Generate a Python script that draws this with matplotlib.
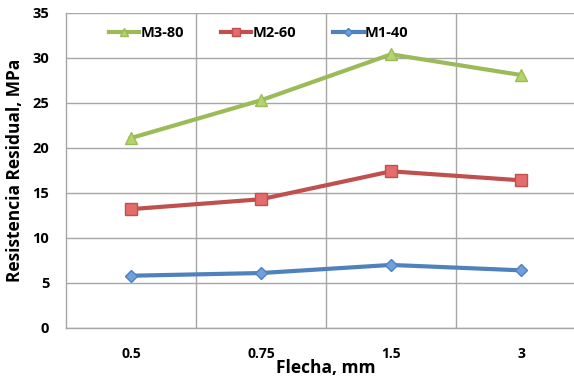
import matplotlib
matplotlib.use('Agg')
import matplotlib.pyplot as plt
from matplotlib.ticker import FixedLocator

# ===== datos ===== #
flecha = ['0.5', '0.75', '1.5', '3']
m3_80 = [21.1, 25.3, 30.4, 28.1]
m2_60 = [13.2, 14.3, 17.4, 16.4]
m1_40 = [5.8, 6.1, 7.0, 6.4]

plt.rcParams['font.family'] = ['Open Sans', 'DejaVu Sans']
plt.rcParams['font.weight'] = 'bold'

fig = plt.figure(figsize=(5.74, 3.80), dpi=100)
ax = fig.add_axes([0.115, 0.137, 0.906, 0.829])

x = range(len(flecha))
ax.plot(x, m3_80, color='#9bbb59', lw=3, marker='^', ms=8,
        mfc='#b3d36b', mec='#9bbb59', label='M3-80')
ax.plot(x, m2_60, color='#c0504d', lw=3, marker='s', ms=8,
        mfc='#e46c6a', mec='#c0504d', label='M2-60')
ax.plot(x, m1_40, color='#4f81bd', lw=3, marker='D', ms=6,
        mfc='#6f9fe0', mec='#4f81bd', label='M1-40')

ax.set_xlim(-0.5, 3.5)
ax.set_ylim(0, 35)
ax.set_yticks(range(0, 36, 5))
ax.set_xticks(list(x))
ax.set_xticklabels(flecha)
ax.xaxis.set_minor_locator(FixedLocator([0.5, 1.5, 2.5]))

ax.grid(axis='y', which='major', color='#a6a6a6', lw=1)
ax.grid(axis='x', which='minor', color='#a6a6a6', lw=1)
ax.set_axisbelow(True)

for s in ['top', 'right']:
    ax.spines[s].set_visible(False)
for s in ['left', 'bottom']:
    ax.spines[s].set_color('#a6a6a6')
    ax.spines[s].set_linewidth(1)

ax.tick_params(which='both', length=0)
ax.tick_params(axis='y', labelsize=10.5, pad=12)
ax.tick_params(axis='x', labelsize=10, pad=14)

ax.set_xlabel('Flecha, mm', fontsize=12.5, fontweight='bold', labelpad=-2)
ax.set_ylabel('Resistencia Residual, MPa', fontsize=12.5, fontweight='bold', labelpad=6)

ax.legend(loc='upper left', bbox_to_anchor=(0.057, 1.0), ncol=3, frameon=False,
          fontsize=10.5, handlelength=2.1, handletextpad=0.1, columnspacing=2.5,
          markerscale=0.7)

fig.savefig('out.png', dpi=100)
